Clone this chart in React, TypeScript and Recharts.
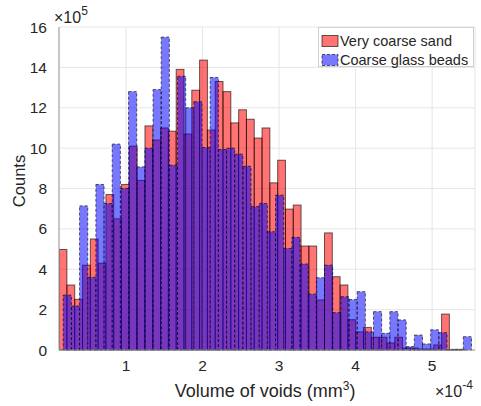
import React from "react";
import { ComposedChart, Bar, XAxis, YAxis, CartesianGrid } from "recharts";

// histogram bins: edges in units of 1e-4 mm^3, counts in units of 1e5
const sandBinStart = 0.124;
const sandBinWidth = 0.102;
const sandCounts = [
  4.98, 3.22, 2.51, 4.2, 5.5, 4.3, 7.7, 6.5, 8.2, 10.1,
  8.4, 11.1, 10.4, 11.0, 10.84, 13.9, 10.7, 12.87, 14.36, 10.9,
  13.3, 12.8, 11.25, 11.9, 11.43, 10.5, 11.0, 8.28, 9.4, 6.98,
  7.18, 5.15, 5.15, 2.48, 5.8, 3.63, 3.22, 1.5, 0.9, 1.12,
  0.63, 0.63, 0.35, 0.63, 0.1, 0.1, 0.05, 0.05, 0.25, 1.78,
  0.03, 0.03,
];

const beadsBinStart = 0.1804;
const beadsBinWidth = 0.1067;
const beadsCounts = [
  2.72, 2.18, 7.14, 3.6, 8.2, 7.26, 10.2, 8.0, 12.8, 9.07,
  10.0, 12.9, 15.5, 9.16, 13.56, 12.0, 12.3, 10.03, 13.5, 9.93,
  10.0, 9.7, 9.1, 7.1, 7.26, 5.86, 7.67, 5.03, 5.58, 4.26,
  2.77, 3.58, 4.2, 1.85, 2.64, 2.5, 2.89, 0.9, 1.9, 0.83,
  1.9, 1.49, 0.17, 0.74, 0.3, 1.0, 0.86, 0.02, 0.03, 0.66,
];

const seriesNames = ["Very coarse sand", "Coarse glass beads"];
const xTicks = [1, 2, 3, 4, 5];
const yTicks = [0, 2, 4, 6, 8, 10, 12, 14, 16];
const xDomain: [number, number] = [0.124, 5.56];

const W = 481;
const H = 406;
const PLOT_LEFT = 59;
const PLOT_RIGHT = 6;
const PX_PER_UNIT = (W - PLOT_LEFT - PLOT_RIGHT) / (xDomain[1] - xDomain[0]);

const n = Math.max(sandCounts.length, beadsCounts.length);
const rows = Array.from({ length: n }, (_, i) => ({
  sx: sandBinStart + sandBinWidth * (i + 0.5),
  sand: i < sandCounts.length ? sandCounts[i] : null,
  bx: beadsBinStart + beadsBinWidth * (i + 0.5),
  beads: i < beadsCounts.length ? beadsCounts[i] : null,
}));

const FONT = "'Liberation Sans', Arial, Helvetica, sans-serif";
const AXIS = "#9a9a9a";
const TEXT = "#262626";

// draw each bar exactly one bin wide, centred where recharts put it
function histShape(binWidth: number, fill: string, opacity: number, dash?: string) {
  return (p: any) => {
    const { x, y, width, height } = p;
    if (height == null || !(height > 0)) return <g />;
    const w = binWidth * PX_PER_UNIT;
    const cx = x + width / 2;
    return (
      <rect
        x={cx - w / 2}
        y={y}
        width={w}
        height={height}
        fill={fill}
        fillOpacity={opacity}
        stroke="#000"
        strokeOpacity={0.6}
        strokeWidth={1}
        strokeDasharray={dash}
      />
    );
  };
}

const sandShape = histShape(sandBinWidth, "#ff0000", 0.55);
const beadsShape = histShape(beadsBinWidth, "#0000ff", 0.53, "3 2");

export default function App() {
  return (
    <div
      style={{
        position: "absolute",
        left: 0,
        top: 0,
        width: W,
        height: H,
        background: "#fff",
        fontFamily: FONT,
      }}
    >
      <ComposedChart
        width={W}
        height={H}
        data={rows}
        margin={{ top: 27, right: PLOT_RIGHT, bottom: 26, left: 0 }}
        barCategoryGap={0}
        barGap={0}
      >
        <CartesianGrid xAxisId="sand" yAxisId="left" stroke="#e6e6e6" />
        <XAxis
          xAxisId="sand"
          type="number"
          dataKey="sx"
          domain={xDomain}
          ticks={xTicks}
          interval={0}
          allowDataOverflow
          height={30}
          tickLine={false}
          tickSize={0}
          tickMargin={10}
          axisLine={{ stroke: AXIS }}
          tick={{ fontSize: 15.5, fill: TEXT, fontFamily: FONT }}
        />
        <XAxis
          xAxisId="beads"
          orientation="top"
          type="number"
          dataKey="bx"
          domain={xDomain}
          allowDataOverflow
          height={0}
          tick={false}
          tickLine={false}
          axisLine={{ stroke: AXIS }}
        />
        <YAxis
          yAxisId="left"
          type="number"
          domain={[0, 16]}
          ticks={yTicks}
          interval={0}
          width={PLOT_LEFT}
          tickLine={false}
          tickSize={0}
          tickMargin={12}
          axisLine={{ stroke: AXIS }}
          tick={{ fontSize: 15.5, fill: TEXT, fontFamily: FONT }}
        />
        <YAxis
          yAxisId="right"
          orientation="right"
          type="number"
          domain={[0, 16]}
          width={0}
          tick={false}
          tickLine={false}
          axisLine={{ stroke: AXIS }}
        />
        <Bar
          xAxisId="sand"
          yAxisId="left"
          dataKey="sand"
          name={seriesNames[0]}
          shape={sandShape}
          isAnimationActive={false}
        />
        <Bar
          xAxisId="beads"
          yAxisId="left"
          dataKey="beads"
          name={seriesNames[1]}
          shape={beadsShape}
          isAnimationActive={false}
        />
      </ComposedChart>

      <svg
        width={W}
        height={H}
        style={{ position: "absolute", left: 0, top: 0, pointerEvents: "none" }}
        fontFamily={FONT}
      >
        {/* axis labels and exponents */}
        <text x={54} y={23} fontSize={16} fill={TEXT}>
          ×10<tspan dy={-8} fontSize={12}>5</tspan>
        </text>
        <text x={435} y={397} fontSize={16} fill={TEXT}>
          ×10<tspan dy={-8} fontSize={12}>-4</tspan>
        </text>
        <text x={265} y={397} fontSize={18} fill={TEXT} textAnchor="middle">
          Volume of voids (mm<tspan dy={-7} fontSize={12}>3</tspan>
          <tspan dy={7}>)</tspan>
        </text>
        <text
          transform="translate(25,181) rotate(-90)"
          fontSize={16.5}
          fill={TEXT}
          textAnchor="middle"
        >
          Counts
        </text>

        {/* legend */}
        <rect x={318.5} y={27.5} width={155} height={39} fill="#fff" stroke="#d0d0d0" />
        <rect x={322} y={35.5} width={16} height={11} fill="#ff0000" fillOpacity={0.55} stroke="#000" strokeOpacity={0.6} />
        <text x={340} y={46} fontSize={14.5} fill={TEXT}>
          {seriesNames[0]}
        </text>
        <rect x={322} y={54.5} width={16} height={11} fill="#0000ff" fillOpacity={0.53} stroke="#000" strokeOpacity={0.6} strokeDasharray="3 2" />
        <text x={340} y={65} fontSize={14.5} fill={TEXT}>
          {seriesNames[1]}
        </text>
      </svg>
    </div>
  );
}
